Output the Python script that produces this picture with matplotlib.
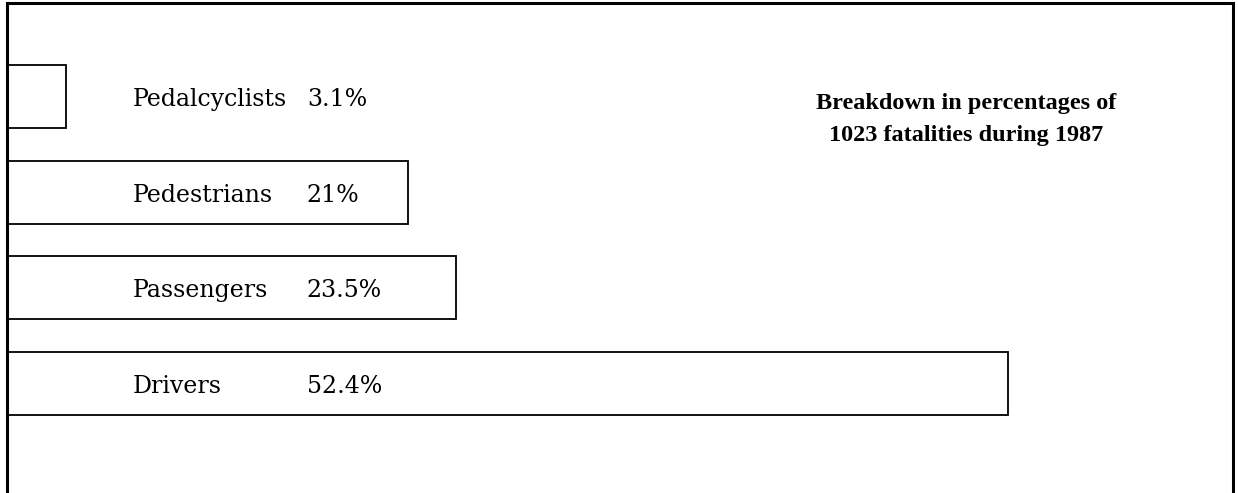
import matplotlib.pyplot as plt
from matplotlib.patches import Rectangle

categories = ['Pedalcyclists', 'Pedestrians', 'Passengers', 'Drivers']
percentages = [3.1, 21, 23.5, 52.4]
value_labels = ['3.1%', '21%', '23.5%', '52.4%']
title = 'Breakdown in percentages of\n1023 fatalities during 1987'

plt.rcParams['font.family'] = ['DejaVu Serif']

fig = plt.figure(figsize=(12.38, 4.93), dpi=100)
ax = fig.add_axes([0, 0, 1, 1])

ypos = range(len(categories))
ax.barh(ypos, percentages, height=0.66, left=0, color='white',
        edgecolor='black', linewidth=1.3)

for i, (cat, val) in enumerate(zip(categories, value_labels)):
    ax.text(6.6, i + 0.03, cat, ha='left', va='center', fontsize=17)
    ax.text(15.7, i + 0.03, val, ha='left', va='center', fontsize=17)

ax.set_xlim(-0.37, 64.45)
ax.set_ylim(4.143, -1.008)
ax.axis('off')

# outer frame
fig.patches.append(Rectangle((7 / 1238, -0.05), 1226 / 1238, 1 - 3 / 493 + 0.05,
                             transform=fig.transFigure, fill=False,
                             edgecolor='black', linewidth=2.2))

fig.text(0.78, 0.757, title, ha='center', va='center', fontsize=17.5,
         fontweight='bold', linespacing=1.7, family='Liberation Serif')

fig.savefig('out.png', dpi=100)
